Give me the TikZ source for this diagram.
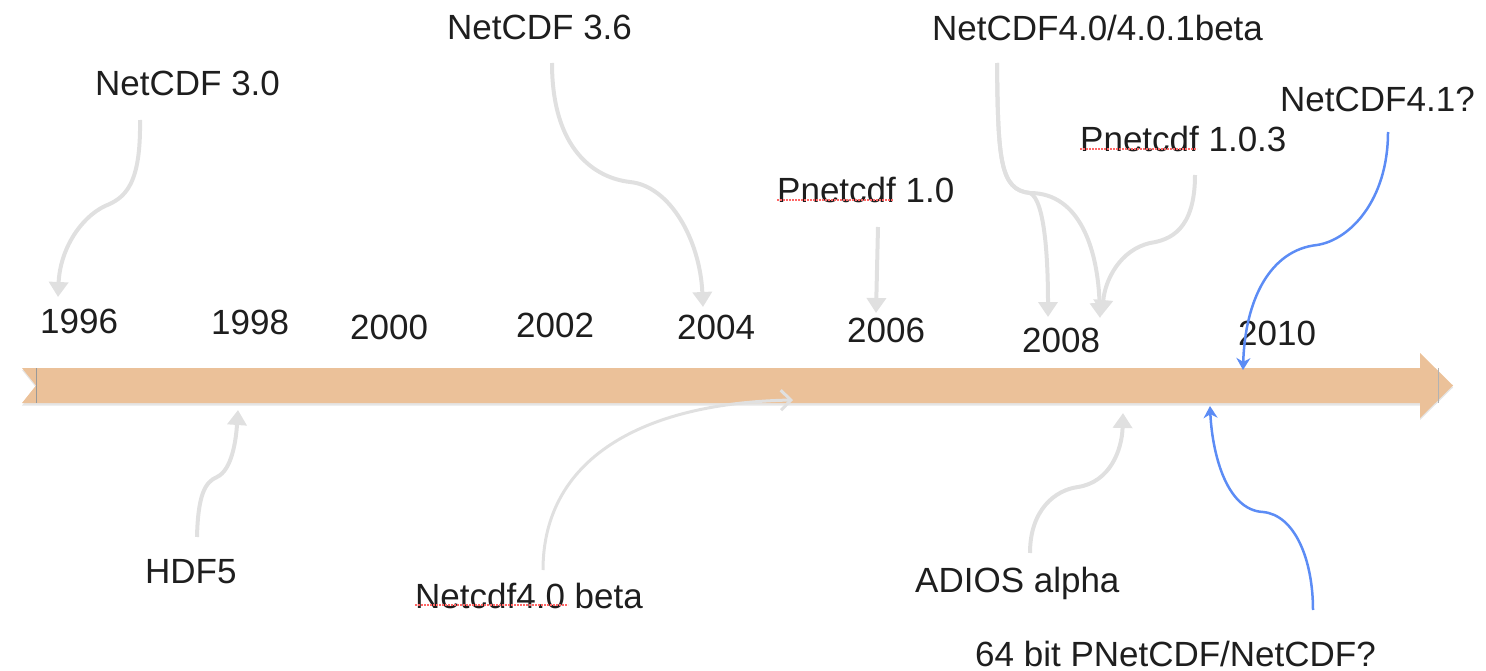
\documentclass[tikz,border=0pt]{standalone}
\usepackage{fontspec}
\setmainfont{Liberation Sans}
\usetikzlibrary{arrows.meta}
\definecolor{bar}{RGB}{235,193,153}
\definecolor{conn}{RGB}{224,224,224}
\definecolor{blueconn}{RGB}{92,140,245}
\definecolor{txt}{RGB}{30,30,30}
\tikzset{
  lbl/.style={anchor=base west,inner sep=0pt,text=txt,font=\fontsize{35}{40}\selectfont},
  grayarrow/.style={draw=conn,line width=4pt,-{Triangle[length=15pt,width=19pt]}},
  openarrow/.style={draw=conn,line width=3pt,-{Straight Barb[length=10pt,width=20pt]}},
  bluearrow/.style={draw=blueconn,line width=2.5pt,-{Stealth[length=12pt,width=14pt]}},
  spell/.style={draw=red!60,line width=1.1pt,dash pattern=on 1.6pt off 1.4pt},
}
\begin{document}
\begin{tikzpicture}[x=1pt,y=-1pt]
\useasboundingbox (0,0) rectangle (1486,671);
% timeline arrow
\fill[black!10] (22,370) -- (1420,370) -- (1420,355) -- (1453,387.5) -- (1420,420) -- (1420,405.5) -- (22,405.5) -- (36,387.5) -- cycle;
\fill[bar] (22,368) -- (1420,368) -- (1420,353) -- (1453,385.5) -- (1420,418) -- (1420,403) -- (22,403) -- (36,385.5) -- cycle;
\draw[black!40,line width=0.8pt] (36,368) -- (36,403);
\draw[black!30,line width=0.8pt] (1438,368) -- (1438,403);
% labels
\node[lbl] (n30) at (95,96) {NetCDF 3.0};
\node[lbl] (n36) at (447,40) {NetCDF 3.6};
\node[lbl] (n40) at (932,41) {NetCDF4.0/4.0.1beta};
\node[lbl] (n41) at (1280,112) {NetCDF4.1?};
\node[lbl] (p103) at (1080,152) {Pnetcdf 1.0.3};
\node[lbl] (p10) at (777,203) {Pnetcdf 1.0};
\node[lbl] (y96) at (40,333) {1996};
\node[lbl] (y98) at (211,334) {1998};
\node[lbl] (y00) at (350,339) {2000};
\node[lbl] (y02) at (516,337) {2002};
\node[lbl] (y04) at (677,339) {2004};
\node[lbl] (y06) at (847,342) {2006};
\node[lbl] (y08) at (1022,352) {2008};
\node[lbl] (y10) at (1238,345) {2010};
\node[lbl] (hdf) at (145,583) {HDF5};
\node[lbl] (beta) at (415,608) {Netcdf4.0 beta};
\node[lbl] (adios) at (915,592) {ADIOS alpha};
\node[lbl] (b64) at (975,666) {64 bit PNetCDF/NetCDF?};
% spell-check underlines
\draw[spell] ([yshift=3pt]p103.base west) -- ++(117,0);
\draw[spell] ([yshift=3pt]p10.base west) -- ++(116,0);
\draw[spell] ([yshift=3pt]beta.base west) -- ++(153,0);
% connector end points
\coordinate (s30) at (140,120);   \coordinate (e30) at (58,297);
\coordinate (s36) at (552,63);    \coordinate (e36) at (703,307);
\coordinate (s40) at (997,63);    \coordinate (e40a) at (1048,317); \coordinate (e40b) at (1100,318);
\coordinate (s103) at (1195,175); \coordinate (e103) at (1102,315);
\coordinate (s10) at (878,227);   \coordinate (e10) at (876,313);
\coordinate (s41) at (1388,132);  \coordinate (e41) at (1243,370);
\coordinate (s64) at (1313,610);  \coordinate (e64) at (1210,406);
\coordinate (shdf) at (197,537);  \coordinate (ehdf) at (238,410);
\coordinate (sbeta) at (543,570); \coordinate (ebeta) at (793,400);
\coordinate (sad) at (1030,553);  \coordinate (ead) at (1123,413);
% connectors
\draw[grayarrow] (s30) .. controls (141,185) and (125,198) .. (105,206) .. controls (80,218) and (60,250) .. (e30);
\draw[grayarrow] (s36) .. controls (552,150) and (595,178) .. (630,182) .. controls (670,186) and (700,240) .. (e36);
\draw[grayarrow] (s40) .. controls (998,160) and (1000,190) .. (1030,193) .. controls (1045,200) and (1048,260) .. (e40a);
\draw[grayarrow] (s40) .. controls (998,160) and (1000,190) .. (1030,193) .. controls (1080,193) and (1098,250) .. (e40b);
\draw[grayarrow] (s103) .. controls (1195,230) and (1170,240) .. (1150,243) .. controls (1120,250) and (1105,280) .. (e103);
\draw[grayarrow] (s10) -- (e10);
\draw[grayarrow] (shdf) .. controls (198,495) and (205,482) .. (217,477) .. controls (232,470) and (236,440) .. (ehdf);
\draw[openarrow] (sbeta) .. controls (543,460) and (640,403) .. (ebeta);
\draw[grayarrow] (sad) .. controls (1030,510) and (1055,490) .. (1078,487) .. controls (1110,482) and (1122,450) .. (ead);
\draw[bluearrow] (s41) .. controls (1388,200) and (1350,240) .. (1317,245) .. controls (1270,250) and (1245,300) .. (e41);
\draw[bluearrow] (s64) .. controls (1313,560) and (1295,515) .. (1263,512) .. controls (1225,510) and (1212,450) .. (e64);
\end{tikzpicture}
\end{document}
